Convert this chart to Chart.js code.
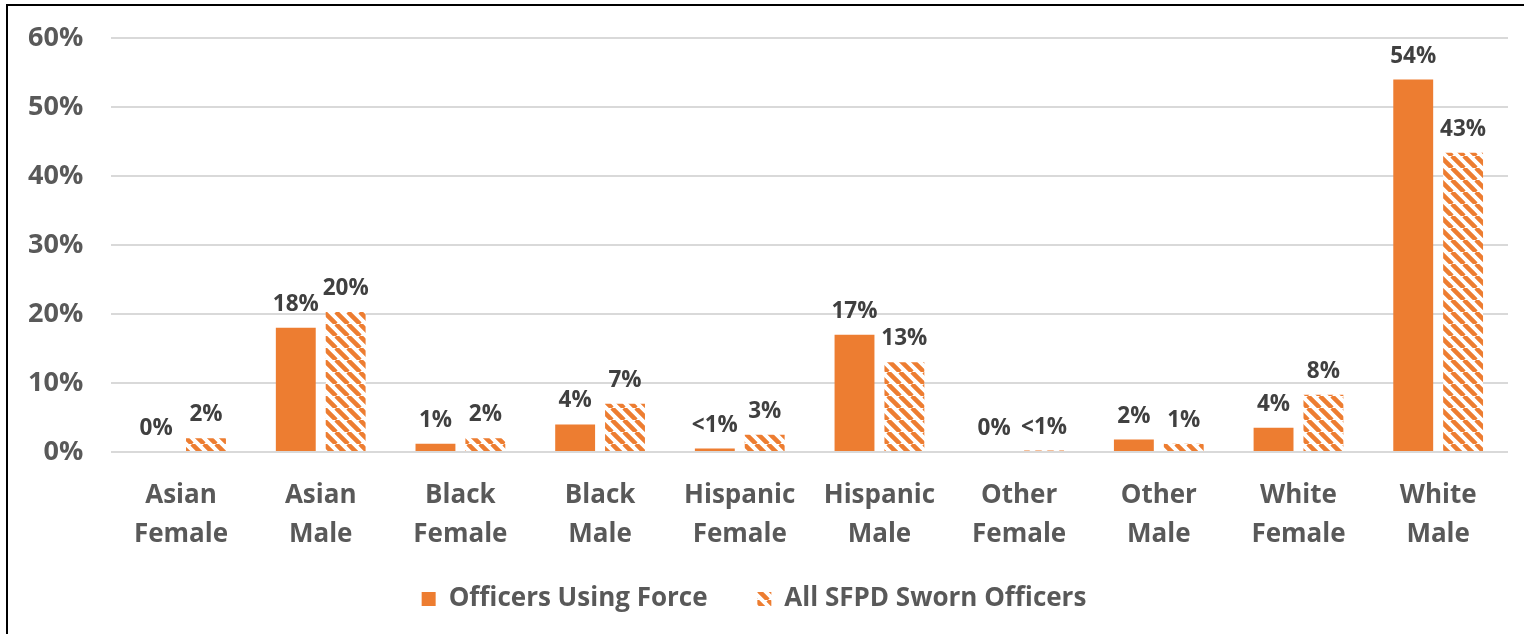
<!DOCTYPE html>
<html lang="en">
<head>
<meta charset="UTF-8" />
<title>SFPD use of force by officer demographics</title>
<script src="https://cdn.jsdelivr.net/npm/chart.js"></script>
<style>
  html, body { margin: 0; padding: 0; background: #fff; }
  body { width: 1524px; height: 634px; overflow: hidden; position: relative; }
  #frame {
    position: absolute; left: 6px; top: 4px; width: 1600px; height: 700px;
    border-top: 2px solid #000; border-left: 2px solid #000;
  }
  #wrap { position: absolute; left: 0; top: 0; width: 1524px; height: 634px; }
</style>
</head>
<body>
<div id="frame"></div>
<div id="wrap"><canvas id="chart"></canvas></div>
<script>
  const categories = [
    ['Asian', 'Female'], ['Asian', 'Male'], ['Black', 'Female'], ['Black', 'Male'],
    ['Hispanic', 'Female'], ['Hispanic', 'Male'], ['Other', 'Female'], ['Other', 'Male'],
    ['White', 'Female'], ['White', 'Male']
  ];
  const usingForce = [0, 18, 1.2, 4, 0.5, 17, 0, 1.8, 3.5, 54];
  const allSworn = [2, 20.3, 2, 7, 2.5, 13, 0.2, 1.2, 8.3, 43.4];
  const usingForceLabels = ['0%', '18%', '1%', '4%', '<1%', '17%', '0%', '2%', '4%', '54%'];
  const allSwornLabels = ['2%', '20%', '2%', '7%', '3%', '13%', '<1%', '1%', '8%', '43%'];
  const yTicks = [0, 10, 20, 30, 40, 50, 60];

  const orange = '#ED7D31';
  const fontFamily = "'Open Sans', 'DejaVu Sans', sans-serif";

  // diagonal stripe fill like the Excel pattern
  function stripes() {
    const s = 12;
    const c = document.createElement('canvas');
    c.width = s; c.height = s;
    const g = c.getContext('2d');
    g.fillStyle = '#fff';
    g.fillRect(0, 0, s, s);
    g.strokeStyle = orange;
    g.lineWidth = 4.5;
    g.beginPath();
    for (const k of [-s, 0, s]) {
      g.moveTo(k, 0);
      g.lineTo(k + s, s);
    }
    g.stroke();
    return g.createPattern(c, 'repeat');
  }

  const barLabels = {
    id: 'barLabels',
    afterDatasetsDraw(chart) {
      const ctx = chart.ctx;
      ctx.save();
      ctx.font = 'bold 22.5px ' + fontFamily;
      ctx.fillStyle = '#404040';
      ctx.textAlign = 'center';
      ctx.textBaseline = 'alphabetic';
      chart.data.datasets.forEach((ds, i) => {
        chart.getDatasetMeta(i).data.forEach((bar, j) => {
          ctx.fillText(ds.labels[j], bar.x, bar.y - 17);
        });
      });
      ctx.restore();
    }
  };

  const hatch = stripes();

  new Chart(document.getElementById('chart'), {
    type: 'bar',
    data: {
      labels: categories,
      datasets: [
        {
          label: 'Officers Using Force',
          data: usingForce,
          labels: usingForceLabels,
          backgroundColor: orange,
          categoryPercentage: 0.714,
          barPercentage: 0.8
        },
        {
          label: 'All SFPD Sworn Officers',
          data: allSworn,
          labels: allSwornLabels,
          backgroundColor: hatch,
          categoryPercentage: 0.714,
          barPercentage: 0.8
        }
      ]
    },
    options: {
      responsive: true,
      maintainAspectRatio: false,
      animation: false,
      layout: { padding: { top: 10, right: 16, left: 0, bottom: 12 } },
      plugins: {
        legend: {
          position: 'bottom',
          labels: {
            color: '#595959',
            font: { family: fontFamily, size: 26, weight: 'bold' },
            boxWidth: 14,
            boxHeight: 14,
            padding: 16,
            // wider gap between the two entries
            generateLabels: chart => {
              const items = Chart.defaults.plugins.legend.labels.generateLabels(chart);
              items[0].text += '     ';
              return items;
            }
          }
        },
        tooltip: { enabled: false }
      },
      scales: {
        x: {
          grid: { display: false },
          border: { display: false },
          ticks: {
            color: '#595959',
            font: { family: fontFamily, size: 26, weight: 'bold', lineHeight: 1.5 },
            padding: 16,
            maxRotation: 0
          }
        },
        y: {
          min: 0,
          max: 60,
          afterBuildTicks: axis => { axis.ticks = yTicks.map(v => ({ value: v })); },
          border: { display: false },
          grid: { color: '#d9d9d9', lineWidth: 2, drawTicks: false },
          ticks: {
            color: '#595959',
            font: { family: fontFamily, size: 27, weight: 'bold', lineHeight: 0.75 },
            padding: 28,
            callback: v => v + '%'
          }
        }
      }
    },
    plugins: [barLabels]
  });
</script>
</body>
</html>
